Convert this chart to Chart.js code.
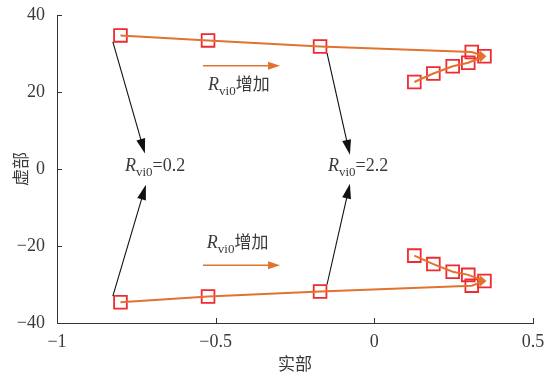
<!DOCTYPE html>
<html>
<head>
<meta charset="utf-8">
<script src="https://cdn.jsdelivr.net/npm/chart.js@4.4.0/dist/chart.umd.min.js"></script>
<style>
  html, body { margin: 0; padding: 0; background: #fff; }
  #wrap { width: 551px; height: 377px; }
</style>
</head>
<body>
<div id="wrap"><canvas id="grafico"></canvas></div>
<script>
// polos: ramo superior (parte imaginaria positiva)
const reSup = [-0.800, -0.524, -0.171, 0.307, 0.347];
const imSup = [34.7, 33.4, 31.8, 30.4, 29.3];
const reSupGrupo = [0.126, 0.186, 0.247, 0.296, 0.347];
const imSupGrupo = [22.6, 24.8, 26.7, 27.6, 29.3];
// ramo inferior
const reInf = [-0.800, -0.524, -0.171, 0.307, 0.347];
const imInf = [-34.6, -33.1, -31.8, -30.3, -29.1];
const reInfGrupo = [0.126, 0.186, 0.247, 0.296, 0.347];
const imInfGrupo = [-22.5, -24.7, -26.7, -27.5, -29.1];

const ticksX = [-1, -0.5, 0, 0.5];
const ticksY = [-40, -20, 0, 20, 40];

// setas pretas ligando os polos aos rotulos: [x0, y0, x1, y1]
const setasPretas = [
  [-0.824, 33.0, -0.723, 4.0],
  [-0.824, -33.0, -0.720, -4.1],
  [-0.149, 30.1, -0.077, 3.7],
  [-0.149, -30.0, -0.077, -3.8]
];
// setas laranja horizontais: [x0, x1, y]
const setasLaranja = [
  [-0.540, -0.297, 26.8],
  [-0.540, -0.297, -25.0]
];
// rotulos: x = inicio do texto, y = linha de base
const rotulos = [
  { x: -0.786, y: -0.6, resto: '=0.2', cjk: false },
  { x: -0.146, y: -0.6, resto: '=2.2', cjk: false },
  { x: -0.524, y: 20.5, resto: '增加', cjk: true },
  { x: -0.528, y: -20.4, resto: '增加', cjk: true }
];

const LARANJA = '#e2732f';
const VERMELHO = '#ee2b30';
const TEXTO = '#3a3a3a';
const SERIF = '"Liberation Serif", "Times New Roman", serif';
const CJK = '"Noto Sans CJK SC", sans-serif';

const pontos = (xs, ys) => xs.map((x, i) => ({ x: x, y: ys[i] }));

function linha(xs, ys) {
  return {
    data: pontos(xs, ys),
    showLine: true,
    borderColor: LARANJA,
    borderWidth: 2,
    pointRadius: 0,
    fill: false
  };
}
function marcadores(xs, ys) {
  return {
    data: pontos(xs, ys),
    showLine: false,
    pointStyle: 'rect',
    pointRadius: 9,
    pointHoverRadius: 9,
    pointBorderColor: VERMELHO,
    pointBackgroundColor: 'transparent',
    pointBorderWidth: 1.8
  };
}

function ponta(ctx, x0, y0, x1, y1, comp, meia, cor) {
  const a = Math.atan2(y1 - y0, x1 - x0);
  ctx.save();
  ctx.fillStyle = cor;
  ctx.translate(x1, y1);
  ctx.rotate(a);
  ctx.beginPath();
  ctx.moveTo(0, 0);
  ctx.lineTo(-comp, -meia);
  ctx.lineTo(-comp, meia);
  ctx.closePath();
  ctx.fill();
  ctx.restore();
}

function seta(ctx, x0, y0, x1, y1, comp, meia, cor, largura) {
  const d = Math.hypot(x1 - x0, y1 - y0);
  const ex = x1 - (x1 - x0) * comp / d;
  const ey = y1 - (y1 - y0) * comp / d;
  ctx.save();
  ctx.strokeStyle = cor;
  ctx.lineWidth = largura;
  ctx.beginPath();
  ctx.moveTo(x0, y0);
  ctx.lineTo(ex + (x1 - x0) / d, ey + (y1 - y0) / d);
  ctx.stroke();
  ctx.restore();
  ponta(ctx, x0, y0, x1, y1, comp, meia, cor);
}

// desenha "R_vi0" seguido do resto do texto
function rotuloR(ctx, x, y, resto, cjk) {
  ctx.save();
  ctx.fillStyle = TEXTO;
  ctx.textBaseline = 'alphabetic';
  ctx.textAlign = 'left';
  ctx.font = 'italic 18px ' + SERIF;
  ctx.fillText('R', x, y);
  x += ctx.measureText('R').width;
  ctx.font = '13px ' + SERIF;
  ctx.fillText('vi0', x, y + 5);
  x += ctx.measureText('vi0').width;
  ctx.font = cjk ? '17px ' + CJK : '18px ' + SERIF;
  ctx.fillText(resto, x, y);
  ctx.restore();
}

const anotacoes = {
  id: 'anotacoes',
  afterDraw(chart) {
    const ctx = chart.ctx;
    const sx = chart.scales.x, sy = chart.scales.y;
    const area = chart.chartArea;

    // marcas dos ticks para dentro
    ctx.save();
    ctx.strokeStyle = '#333';
    ctx.lineWidth = 1;
    ctx.beginPath();
    ticksX.forEach(v => {
      const px = Math.round(sx.getPixelForValue(v)) + 0.5;
      ctx.moveTo(px, area.bottom);
      ctx.lineTo(px, area.bottom - 5);
    });
    ticksY.forEach(v => {
      const py = Math.round(sy.getPixelForValue(v)) + 0.5;
      ctx.moveTo(area.left, py);
      ctx.lineTo(area.left + 5, py);
    });
    ctx.stroke();
    ctx.restore();

    // pontas no fim das curvas laranja
    chart.data.datasets.forEach(ds => {
      if (!ds.showLine) return;
      const n = ds.data.length;
      const a = ds.data[n - 2], b = ds.data[n - 1];
      ponta(ctx, sx.getPixelForValue(a.x), sy.getPixelForValue(a.y),
        sx.getPixelForValue(b.x) + 2, sy.getPixelForValue(b.y), 8, 3.5, LARANJA);
    });

    setasPretas.forEach(s => {
      seta(ctx, sx.getPixelForValue(s[0]), sy.getPixelForValue(s[1]),
        sx.getPixelForValue(s[2]), sy.getPixelForValue(s[3]), 15, 4.5, '#111', 1.1);
    });
    setasLaranja.forEach(s => {
      const py = sy.getPixelForValue(s[2]);
      seta(ctx, sx.getPixelForValue(s[0]), py, sx.getPixelForValue(s[1]), py, 12, 4, LARANJA, 1.6);
    });
    rotulos.forEach(r => {
      rotuloR(ctx, sx.getPixelForValue(r.x), sy.getPixelForValue(r.y), r.resto, r.cjk);
    });
  }
};

const fmt = v => String(v).replace('-', '\u2212');

new Chart(document.getElementById('grafico'), {
  type: 'scatter',
  data: {
    datasets: [
      linha(reSup, imSup),
      linha(reSupGrupo, imSupGrupo),
      linha(reInf, imInf),
      linha(reInfGrupo, imInfGrupo),
      marcadores(reSup, imSup),
      marcadores(reSupGrupo.slice(0, 4), imSupGrupo.slice(0, 4)),
      marcadores(reInf, imInf),
      marcadores(reInfGrupo.slice(0, 4), imInfGrupo.slice(0, 4))
    ]
  },
  options: {
    responsive: true,
    maintainAspectRatio: false,
    animation: false,
    layout: { padding: { left: 0, right: 18, top: 15, bottom: 0 } },
    plugins: { legend: { display: false }, tooltip: { enabled: false } },
    scales: {
      x: {
        type: 'linear',
        min: -1, max: 0.5,
        afterBuildTicks: s => { s.ticks = ticksX.map(v => ({ value: v })); },
        afterFit: s => { s.height = 54; },
        grid: { display: false },
        border: { display: true, color: '#333', width: 1 },
        ticks: { color: TEXTO, padding: 0, maxRotation: 0, font: { family: SERIF, size: 18 }, callback: fmt },
        title: { display: true, text: '实部', color: TEXTO, font: { family: CJK, size: 17 }, padding: { top: 0, bottom: 3 } }
      },
      y: {
        type: 'linear',
        min: -40, max: 40,
        afterBuildTicks: s => { s.ticks = ticksY.map(v => ({ value: v })); },
        afterFit: s => { s.width = 57; },
        grid: { display: false },
        border: { display: true, color: '#333', width: 1 },
        ticks: { color: TEXTO, padding: 4, font: { family: SERIF, size: 18 }, callback: fmt },
        title: { display: true, text: '虚部', color: TEXTO, font: { family: CJK, size: 17 }, padding: { top: 10, bottom: 0 } }
      }
    }
  },
  plugins: [anotacoes]
});
</script>
</body>
</html>
